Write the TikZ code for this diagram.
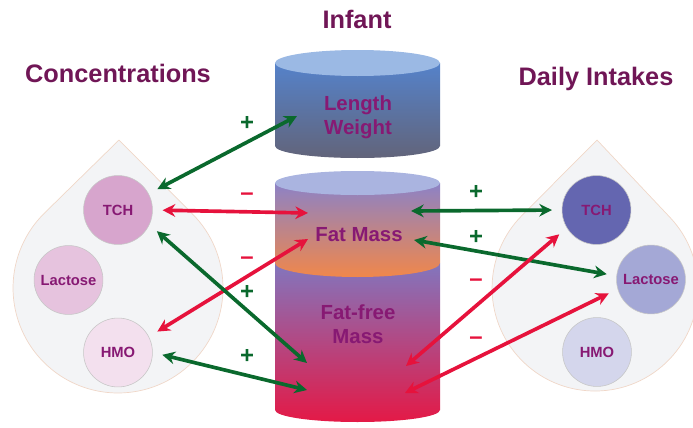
\documentclass[tikz,border=0pt]{standalone}
\usepackage{fontspec}
\setmainfont{Liberation Sans}
\usetikzlibrary{arrows.meta,shadings}
\definecolor{titlemag}{RGB}{112,22,86}
\definecolor{textmag}{RGB}{135,25,115}
\definecolor{linkgreen}{RGB}{10,105,45}
\definecolor{linkred}{RGB}{230,18,60}
\definecolor{dropfill}{RGB}{243,244,246}
\definecolor{dropedge}{RGB}{240,215,200}
\definecolor{tchpink}{RGB}{215,165,205}
\definecolor{lacpink}{RGB}{230,195,222}
\definecolor{hmopink}{RGB}{243,224,238}
\definecolor{tchblue}{RGB}{100,102,176}
\definecolor{lacblue}{RGB}{164,168,214}
\definecolor{hmoblue}{RGB}{212,214,236}
\definecolor{lwcap}{RGB}{155,185,228}
\definecolor{lwtop}{RGB}{85,130,202}
\definecolor{lwmid}{RGB}{80,115,185}
\definecolor{lwbot}{RGB}{98,100,122}
\definecolor{fmcap}{RGB}{170,180,224}
\definecolor{fmtop}{RGB}{140,130,198}
\definecolor{fmmid}{RGB}{215,140,190}
\definecolor{fmbot}{RGB}{240,135,75}
\definecolor{ffmtop}{RGB}{130,118,190}
\definecolor{ffmmid}{RGB}{195,90,160}
\definecolor{ffmbot}{RGB}{228,25,70}

\begin{document}
\begin{tikzpicture}[x=0.025cm,y=-0.025cm,
  heading/.style={font=\fontsize{18}{20}\selectfont\bfseries,text=titlemag,anchor=base},
  cyltext/.style={font=\fontsize{14.5}{17}\selectfont\bfseries,text=textmag,align=center,anchor=base},
  compo/.style={circle,minimum size=49pt,inner sep=0pt,draw=gray!45,line width=0.4pt,
    font=\fontsize{10.5}{12}\selectfont\bfseries,text=textmag},
  link/.style={line width=2.6pt,shorten <=7pt,
    {Stealth[length=9pt,width=9pt]}-{Stealth[length=9pt,width=9pt]}},
  poslink/.style={link,linkgreen},
  neglink/.style={link,linkred},
  signlbl/.style={font=\fontsize{17}{17}\selectfont\bfseries}]

\useasboundingbox (0,0) rectangle (693,428);

%% ── titles ───────────────────────────────────────────────────────────────────
\node[heading] (infant) at (357,28) {Infant};
\node[heading] (conc)   at (118,82) {Concentrations};
\node[heading] (daily)  at (596,85) {Daily Intakes};

%% ════════════════════════════════════════════════════════════════════════════
%%  MILK DROPS
%% ════════════════════════════════════════════════════════════════════════════
\filldraw[fill=dropfill,draw=dropedge,line width=0.5pt]
  (119,140) -- (192,213.5) arc[start angle=-45.2,end angle=225.2,radius=105] -- cycle;
\filldraw[fill=dropfill,draw=dropedge,line width=0.5pt]
  (597,140) -- (670,217.4) arc[start angle=-43.3,end angle=224.9,radius=103] -- cycle;

%% left drop: concentrations
\node[compo,fill=tchpink] (tchL) at (118,210)   {TCH};
\node[compo,fill=lacpink] (lacL) at (68.5,280)  {Lactose};
\node[compo,fill=hmopink] (hmoL) at (118,352.5) {HMO};

%% right drop: daily intakes
\node[compo,fill=tchblue] (tchR) at (596.5,210) {TCH};
\node[compo,fill=lacblue] (lacR) at (651,279.5) {Lactose};
\node[compo,fill=hmoblue] (hmoR) at (597,352)   {HMO};

%% ════════════════════════════════════════════════════════════════════════════
%%  INFANT CYLINDERS
%% ════════════════════════════════════════════════════════════════════════════
%% upper: length / weight
\shade[top color=lwtop,middle color=lwmid,bottom color=lwbot]
  (275,63) -- (275,146) arc[start angle=180,end angle=0,x radius=82.5,y radius=12]
  -- (440,63) -- cycle;
\fill[lwcap] (357.5,63) ellipse [x radius=82.5,y radius=13];
\node[cyltext] (lwlbl) at (358,134) {Length\\Weight};

%% lower: fat-free mass, then fat mass on top
\shade[top color=ffmtop,middle color=ffmmid,bottom color=ffmbot]
  (275,263) -- (275,410) arc[start angle=180,end angle=0,x radius=82.5,y radius=12]
  -- (440,263) -- cycle;
\shade[top color=fmtop,middle color=fmmid,bottom color=fmbot]
  (275,183) -- (275,263) arc[start angle=180,end angle=0,x radius=82.5,y radius=14]
  -- (440,183) -- cycle;
\fill[fmcap] (357.5,183) ellipse [x radius=82.5,y radius=12];
\node[cyltext] (fmlbl)  at (359,241) {Fat Mass};
\node[cyltext] (ffmlbl) at (358,343) {Fat-free\\Mass};

%% arrow ends inside the cylinders
\coordinate (lwIn)  at (297,116);
\coordinate (fmL1)  at (308,213);
\coordinate (fmL2)  at (308,239);
\coordinate (ffmL1) at (307,363);
\coordinate (ffmL2) at (307,390);
\coordinate (fmR1)  at (411,211);
\coordinate (fmR2)  at (414,240);
\coordinate (ffmR1) at (406,366);
\coordinate (ffmR2) at (405,393);

%% ── links: concentrations ────────────────────────────────────────────────────
\draw[poslink] (tchL.28)  -- (lwIn);
\draw[neglink] (tchL.0)   -- (fmL1);
\draw[neglink] (hmoL.27)  -- (fmL2);
\draw[poslink] (tchL.-25) -- (ffmL1);
\draw[poslink] (hmoL.0)   -- (ffmL2);

\node[signlbl,linkgreen] (s1) at (247,123) {+};
\node[signlbl,linkred]   (s2) at (247,197) {--};
\node[signlbl,linkred]   (s3) at (247,261) {--};
\node[signlbl,linkgreen] (s4) at (247,292) {+};
\node[signlbl,linkgreen] (s5) at (247,356) {+};

%% ── links: daily intakes ─────────────────────────────────────────────────────
\draw[poslink] (tchR.180) -- (fmR1);
\draw[poslink] (lacR.174) -- (fmR2);
\draw[neglink] (tchR.211) -- (ffmR1);
\draw[neglink] (lacR.196) -- (ffmR2);

\node[signlbl,linkgreen] (s6) at (476,192) {+};
\node[signlbl,linkgreen] (s7) at (476,237) {+};
\node[signlbl,linkred]   (s8) at (476,283) {--};
\node[signlbl,linkred]   (s9) at (476,341) {--};

\end{tikzpicture}
\end{document}
